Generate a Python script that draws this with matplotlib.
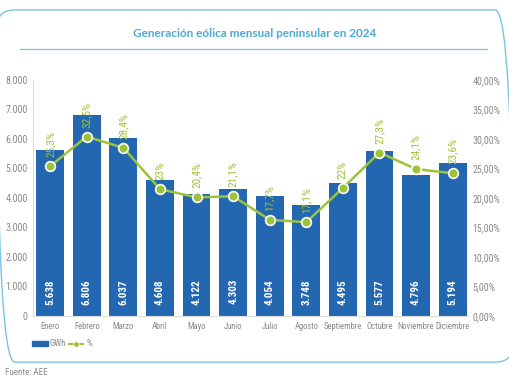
import matplotlib
matplotlib.use("Agg")
from matplotlib import pyplot as plt
from matplotlib import font_manager
from matplotlib.patches import FancyBboxPatch, Rectangle
from matplotlib.lines import Line2D

# data
months = ["Enero", "Febrero", "Marzo", "Abril", "Mayo", "Junio", "Julio",
          "Agosto", "Septiembre", "Octubre", "Noviembre", "Diciembre"]
gwh = [5638, 6806, 6037, 4608, 4122, 4303, 4054, 3748, 4495, 5577, 4796, 5194]
gwh_labels = ["5.638", "6.806", "6.037", "4.608", "4.122", "4.303", "4.054",
              "3.748", "4.495", "5.577", "4.796", "5.194"]
# share of the line, as drawn (markers)
pct_points = [25.4, 30.4, 28.5, 21.5, 20.1, 20.3, 16.3, 15.9, 21.7, 27.7, 24.9, 24.2]
pct_labels = ["25,3%", "32,5%", "28,4%", "23%", "20,4%", "21,1%", "17,7%",
              "17,1%", "22%", "27,3%", "24,1%", "23,6%"]
left_ticks = [0, 1000, 2000, 3000, 4000, 5000, 6000, 7000, 8000]
left_tick_labels = ["0", "1.000", "2.000", "3.000", "4.000", "5.000", "6.000", "7.000", "8.000"]
right_ticks = [0, 5, 10, 15, 20, 25, 30, 35, 40]
right_tick_labels = ["0,00%", "5,00%", "10,00%", "15,00%", "20,00%", "25,00%",
                     "30,00%", "35,00%", "40,00%"]

BLUE = "#2367b1"
GREEN = "#9dc33b"
GRAY = "#8a8a8a"
FRAME = "#7ac4df"

# pick a narrow face if one is there
names = set(f.name for f in font_manager.fontManager.ttflist)
narrow = "DejaVu Sans"
for cand in ["Liberation Sans Narrow", "Roboto Condensed", "Open Sans Condensed",
             "DejaVu Sans Condensed"]:
    if cand in names:
        narrow = cand
        break
NARROW = [narrow, "DejaVu Sans"]

def small(size, **kw):
    return dict(family=NARROW, fontsize=size, fontstretch="condensed", **kw)

fig = plt.figure(figsize=(5.1, 3.82), dpi=100)
fig.patch.set_facecolor("white")

# rounded frame and title
frame = FancyBboxPatch((-0.006, 0.052), 1.012, 0.922, boxstyle="round,pad=0,rounding_size=0.035",
                       transform=fig.transFigure, fill=False, edgecolor=FRAME, linewidth=1.0,
                       mutation_aspect=510 / 382)
fig.patches.append(frame)
fig.text(0.5, 0.913, "Generación eólica mensual peninsular en 2024", ha="center", va="center",
         color="#4aaad4", fontsize=8.5, fontweight="bold", family=["Lato", "DejaVu Sans"])
fig.add_artist(Line2D([0.04, 0.955], [0.873, 0.873], transform=fig.transFigure,
                      color=FRAME, linewidth=0.9))

ax = fig.add_axes([0.0647, 0.1728, 0.853, 0.6178])
x = list(range(len(months)))
ax.bar(x, gwh, width=0.76, color=BLUE, zorder=2)
ax.set_xlim(-0.47, 11.42)
ax.set_ylim(0, 8000)
ax.set_yticks(left_ticks)
ax.set_yticklabels(left_tick_labels, color=GRAY, **small(7.2))
ax.set_xticks(x)
ax.set_xticklabels(months, color=GRAY, **small(5.2 if narrow == "DejaVu Sans" else 6.2))
ax.tick_params(length=0, pad=4)
for side in ["top", "right"]:
    ax.spines[side].set_visible(False)
for side in ["left", "bottom"]:
    ax.spines[side].set_color("#dcdcdc")
    ax.spines[side].set_linewidth(0.8)

for i, lab in enumerate(gwh_labels):
    ax.text(i, 820, lab, rotation=90, ha="center", va="center", color="white",
            fontweight="bold", zorder=4, **small(8))

ax2 = ax.twinx()
ax2.set_ylim(0, 40)
ax2.set_yticks(right_ticks)
ax2.set_yticklabels(right_tick_labels, color=GRAY, **small(7.2))
ax2.tick_params(length=0, pad=3)
for side in ["top", "right", "left", "bottom"]:
    ax2.spines[side].set_visible(False)
ax2.plot(x, pct_points, color=GREEN, linewidth=1.8, marker="o", markersize=7,
         markerfacecolor=GREEN, markeredgecolor="white", markeredgewidth=1.2, zorder=3)
for i, lab in enumerate(pct_labels):
    ax2.annotate(lab, (i, pct_points[i]), xytext=(0, 6.5), textcoords="offset points",
                 rotation=90, ha="center", va="bottom", color=GREEN, **small(8))

# legend
fig.patches.append(Rectangle((0.063, 0.093), 0.031, 0.014, transform=fig.transFigure,
                             color=BLUE))
fig.text(0.098, 0.1, "GWh", ha="left", va="center", color=GRAY, **small(6.5))
fig.add_artist(Line2D([0.135, 0.163], [0.1, 0.1], transform=fig.transFigure, color=GREEN,
                      linewidth=1.5))
fig.add_artist(Line2D([0.149], [0.1], transform=fig.transFigure, color=GREEN,
                      marker="o", markersize=4, markeredgecolor="white",
                      markeredgewidth=0.5, linestyle="none"))
fig.text(0.17, 0.1, "%", ha="left", va="center", color=GRAY, **small(6.5))

fig.text(0.01, 0.026, "Fuente: AEE", ha="left", va="center", color=GRAY, **small(6.5))

fig.savefig("out.png", dpi=100, facecolor="white")
